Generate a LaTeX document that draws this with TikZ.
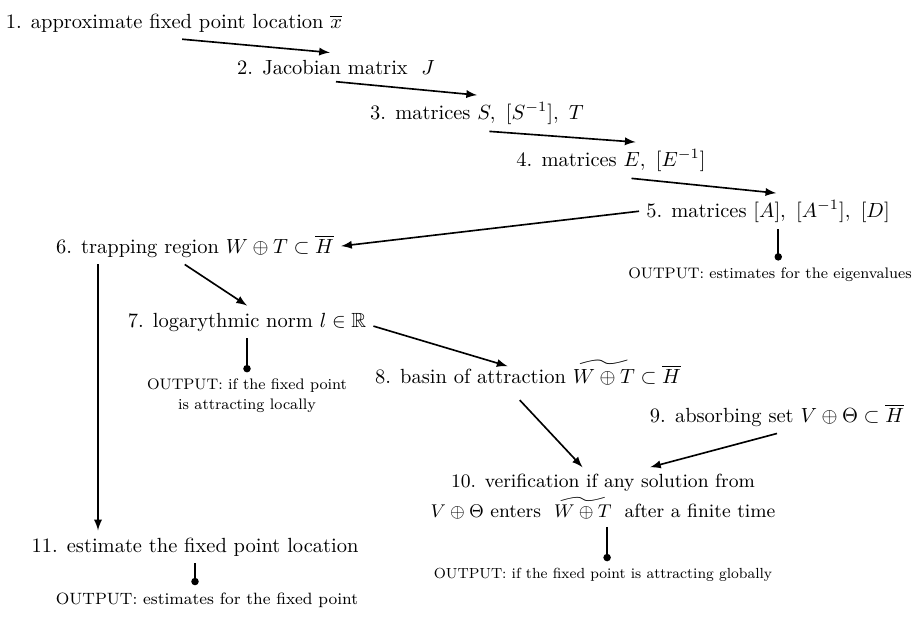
\documentclass[tikz,border=0pt]{standalone}
\usepackage{amsmath}
\usepackage{amsfonts}
\usepackage{tikz}
\usetikzlibrary{arrows.meta}

\begin{document}
\begin{tikzpicture}[x=0.488pt, y=-0.488pt,
      stage/.style={anchor=base},
      output/.style={font=\fontsize{8}{10.5}\selectfont, scale=0.93},
      arr/.style={thick, -latex},
      res/.style={thick, -{Circle[length=3.6pt]}}]
      \useasboundingbox (0,0) rectangle (917,617);
      \node[stage] (n1) at (174,28) {1. approximate fixed point location $\overline{x}$};
      \node[stage] (n2) at (336,74) {2. Jacobian matrix\ \ $J$};
      \node[stage] (n3) at (477,119) {3. matrices $S,\ [S^{-1}],\ T$};
      \node[stage] (n4) at (611,166) {4. matrices $E,\ [E^{-1}]$};
      \node[stage] (n5) at (768,217) {5. matrices $[A],\ [A^{-1}],\ [D]$};
      \node[stage] (n6) at (195,253) {6. trapping region $W \oplus T \subset \overline{H}$};
      \node[stage] (n7) at (247,327) {7. logarythmic norm $l \in \mathbb{R}$};
      \node[stage] (n8) at (528,383) {8. basin of attraction $\widetilde{W \oplus T} \subset \overline{H}$};
      \node[stage] (n9) at (777,422) {9. absorbing set $V \oplus \Theta \subset \overline{H}$};
      \node[align=center, font=\fontsize{9.3}{14.6}\selectfont] (n10) at (603,497) {10. verification if any solution from\\
        $V \oplus \Theta$ enters $\ \widetilde{W \oplus T}\ $ after a finite time};
      \node[stage] (n11) at (195,552) {11. estimate the fixed point location};
      % outputs
      \node[stage, output] (o5) at (770,278) {OUTPUT: estimates for the eigenvalues};
      \node[output, align=center] (o7) at (247,396) {OUTPUT: if the fixed point\\ is attracting locally};
      \node[stage, output, scale=0.96] (o10) at (603,578) {OUTPUT: if the fixed point is attracting globally};
      \node[stage, font=\footnotesize] (o11) at (207,604) {OUTPUT: estimates for the fixed point};
      % flow
      \draw[arr] ([xshift=4pt]n1.south) -- ([xshift=-3pt]n2.north);
      \draw[arr] (n2.south) -- (n3.north);
      \draw[arr] ([xshift=6pt]n3.south) -- ([xshift=12pt]n4.north);
      \draw[arr] ([xshift=10pt]n4.south) -- ([xshift=4pt]n5.north);
      \draw[arr] (n5.west) -- (n6.east);
      \draw[arr] ([xshift=24pt]n6.south west) coordinate (c6) -- (c6 |- n11.north);
      \draw[arr] ([xshift=-5pt]n6.south) -- (n7.north);
      \draw[arr] ([yshift=-2pt]n7.east) -- ([xshift=-10pt,yshift=-6.5pt]n8.north);
      \draw[arr] ([xshift=-4pt,yshift=-4pt]n8.south) -- ([xshift=-10pt]n10.north);
      \draw[arr] (n9.south) -- ([xshift=23pt]n10.north);
      \draw[res] ([xshift=5pt]n5.south) coordinate (c5) -- (c5 |- o5.north);
      \draw[res] (n7.south) -- (o7.north);
      \draw[res] ([xshift=2pt]n10.south) coordinate (c10) -- (c10 |- o10.north);
      \draw[res] (n11.south) -- (n11.south |- o11.north);
\end{tikzpicture}
\end{document}
